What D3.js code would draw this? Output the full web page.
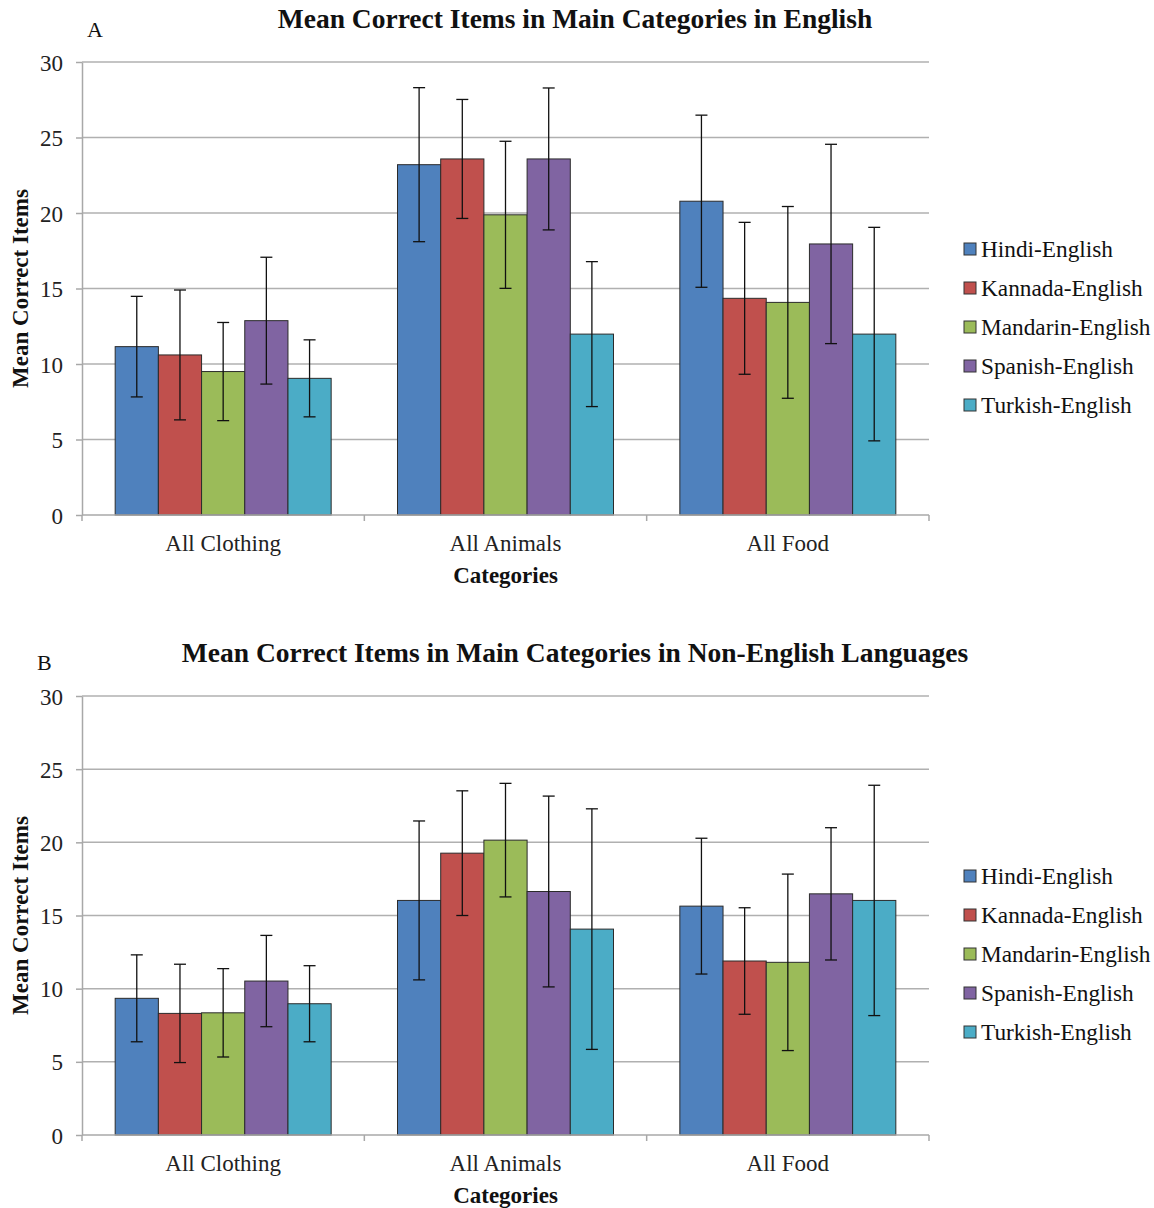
<!DOCTYPE html>
<html>
<head>
<meta charset="utf-8">
<script src="https://cdn.jsdelivr.net/npm/d3@7"></script>
<style>
  body { margin: 0; background: #fff; }
  svg { display: block; font-family: "Liberation Serif", "Times New Roman", serif; }
  .grid line { stroke: #b0b0b0; stroke-width: 1.5; }
  .axis path, .axis line { stroke: #a8a8a8; stroke-width: 1.5; }
  .axis text { fill: #222; font-size: 23px; font-family: "Liberation Serif", serif; }
  .bar { stroke: #2b2b2b; stroke-width: 1; }
  .err { stroke: #111; stroke-width: 1.3; }
</style>
</head>
<body>
<svg id="chart" width="1154" height="1208"></svg>
<script>
const categories = ['All Clothing', 'All Animals', 'All Food'];
const groups = ['Hindi-English', 'Kannada-English', 'Mandarin-English', 'Spanish-English', 'Turkish-English'];
const colors = ['#4F81BD', '#C0504D', '#9BBB59', '#8064A2', '#4BACC6'];
const yTicks = [0, 5, 10, 15, 20, 25, 30];

// panel A: English, one row per category, one value per group
const englishMeans = [
  [11.15, 10.6, 9.5, 12.87, 9.05],
  [23.2, 23.58, 19.88, 23.58, 11.98],
  [20.78, 14.35, 14.08, 17.95, 11.98]
];
const englishSD = [
  [3.33, 4.3, 3.25, 4.2, 2.55],
  [5.1, 3.94, 4.87, 4.7, 4.8],
  [5.7, 5.03, 6.35, 6.6, 7.07]
];

// panel B: non-English languages
const otherMeans = [
  [9.34, 8.31, 8.35, 10.52, 8.97],
  [16.03, 19.26, 20.15, 16.64, 14.07],
  [15.64, 11.89, 11.8, 16.48, 16.03]
];
const otherSD = [
  [2.97, 3.36, 3.02, 3.12, 2.6],
  [5.43, 4.26, 3.88, 6.52, 8.22],
  [4.64, 3.64, 6.03, 4.52, 7.87]
];

const svg = d3.select('#chart');

function drawPanel(opt) {
  const { top, bottom, title, letter, means, sds } = opt;
  const left = 82, right = 929;

  const x0 = d3.scaleBand().domain(categories).range([left, right])
    .paddingInner(0.235).paddingOuter(0.1175);
  const x1 = d3.scaleBand().domain(groups).range([0, x0.bandwidth()]);
  const y = d3.scaleLinear().domain([0, 30]).range([bottom, top]);

  const g = svg.append('g');

  // gridlines
  g.append('g').attr('class', 'grid')
    .selectAll('line')
    .data(yTicks.slice(1))
    .enter().append('line')
    .attr('x1', left).attr('x2', right)
    .attr('y1', d => y(d)).attr('y2', d => y(d));

  // bars
  const cat = g.selectAll('g.cat')
    .data(categories)
    .enter().append('g')
    .attr('class', 'cat')
    .attr('transform', c => `translate(${x0(c)},0)`);

  cat.selectAll('rect')
    .data((c, ci) => groups.map((s, si) => ({ s, si, v: means[ci][si], sd: sds[ci][si] })))
    .enter().append('rect')
    .attr('class', 'bar')
    .attr('x', d => x1(d.s))
    .attr('width', x1.bandwidth())
    .attr('y', d => y(d.v))
    .attr('height', d => y(0) - y(d.v))
    .attr('fill', d => colors[d.si]);

  // error bars
  const eb = cat.selectAll('g.eb')
    .data((c, ci) => groups.map((s, si) => ({ s, v: means[ci][si], sd: sds[ci][si] })))
    .enter().append('g')
    .attr('class', 'eb')
    .attr('transform', d => `translate(${x1(d.s) + x1.bandwidth() / 2},0)`);
  eb.append('line').attr('class', 'err')
    .attr('y1', d => y(d.v + d.sd)).attr('y2', d => y(d.v - d.sd));
  eb.append('line').attr('class', 'err')
    .attr('x1', -6).attr('x2', 6)
    .attr('y1', d => y(d.v + d.sd)).attr('y2', d => y(d.v + d.sd));
  eb.append('line').attr('class', 'err')
    .attr('x1', -6).attr('x2', 6)
    .attr('y1', d => y(d.v - d.sd)).attr('y2', d => y(d.v - d.sd));

  // y axis
  const ya = g.append('g').attr('class', 'axis')
    .attr('transform', `translate(${left},0)`)
    .call(d3.axisLeft(y).tickValues(yTicks).tickSize(6).tickSizeOuter(0).tickPadding(13))
    .attr('font-family', null).attr('font-size', null);
  ya.selectAll('text').attr('dy', '0.35em');

  // x axis with ticks between categories
  const xa = g.append('g').attr('class', 'axis')
    .attr('transform', `translate(0,${bottom})`);
  xa.append('line').attr('x1', left).attr('x2', right);
  xa.selectAll('line.tk')
    .data(d3.range(categories.length + 1))
    .enter().append('line').attr('class', 'tk')
    .attr('x1', i => left + i * (right - left) / categories.length)
    .attr('x2', i => left + i * (right - left) / categories.length)
    .attr('y1', 0).attr('y2', 6);
  xa.selectAll('text')
    .data(categories)
    .enter().append('text')
    .attr('x', c => x0(c) + x0.bandwidth() / 2)
    .attr('y', 36)
    .attr('text-anchor', 'middle')
    .text(c => c);

  // axis titles
  g.append('text')
    .attr('x', (left + right) / 2).attr('y', bottom + 68)
    .attr('text-anchor', 'middle')
    .attr('font-weight', 'bold').attr('font-size', 23)
    .attr('fill', '#111')
    .text('Categories');

  g.append('text')
    .attr('transform', `translate(28,${(top + bottom) / 2}) rotate(-90)`)
    .attr('text-anchor', 'middle')
    .attr('font-weight', 'bold').attr('font-size', 23)
    .attr('fill', '#111')
    .text('Mean Correct Items');

  // title and panel letter
  g.append('text')
    .attr('x', 575).attr('y', top - 34)
    .attr('text-anchor', 'middle')
    .attr('font-weight', 'bold').attr('font-size', 27.5)
    .attr('fill', '#111')
    .text(title);
  g.append('text')
    .attr('x', letter.x).attr('y', letter.y)
    .attr('font-size', 22).attr('fill', '#111')
    .text(letter.t);

  // legend
  const leg = g.append('g')
    .attr('transform', `translate(964,${opt.legendTop})`);
  const row = leg.selectAll('g')
    .data(groups)
    .enter().append('g')
    .attr('transform', (d, i) => `translate(0,${i * 39})`);
  row.append('rect')
    .attr('x', 0).attr('y', -6).attr('width', 12).attr('height', 12)
    .attr('fill', (d, i) => colors[i])
    .attr('stroke', '#333').attr('stroke-width', 1);
  row.append('text')
    .attr('x', 17).attr('y', 0).attr('dy', '0.35em')
    .attr('font-size', 23.3).attr('fill', '#111')
    .text(d => d);
}

drawPanel({
  top: 62, bottom: 515,
  title: 'Mean Correct Items in Main Categories in English',
  letter: { t: 'A', x: 87, y: 37 },
  means: englishMeans, sds: englishSD,
  legendTop: 249
});

drawPanel({
  top: 696, bottom: 1135,
  title: 'Mean Correct Items in Main Categories in Non-English Languages',
  letter: { t: 'B', x: 37, y: 670 },
  means: otherMeans, sds: otherSD,
  legendTop: 876
});
</script>
</body>
</html>
